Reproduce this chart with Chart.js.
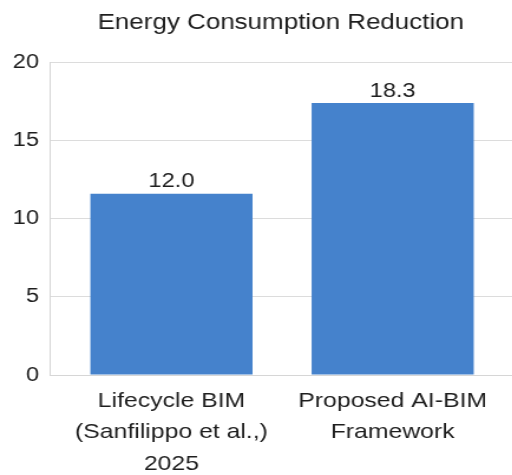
<!DOCTYPE html>
<html>
<head>
<meta charset="utf-8">
<script src="https://cdn.jsdelivr.net/npm/chart.js@4/dist/chart.umd.min.js"></script>
<style>
html,body{margin:0;padding:0;background:#fff;overflow:hidden;width:512px;height:475px;}
#wrap{transform:scaleX(1.18);transform-origin:0 0;width:434px;height:475px;}
</style>
</head>
<body>
<div id="wrap"><canvas id="c" width="434" height="475"></canvas></div>
<script>
const titleText = 'Energy Consumption Reduction';
const categories = [['Lifecycle BIM','(Sanfilippo et al.,)','2025'], ['Proposed AI-BIM','Framework']];
const barValues = [11.6, 17.4];
const valueLabels = ['12.0', '18.3'];
const yTicks = [0, 5, 10, 15, 20];

const FONT = '"Liberation Sans", Arial, Helvetica, sans-serif';
const TEXT = '#1e1e1e';

const valueLabelPlugin = {
  id: 'valueLabels',
  afterDatasetsDraw(chart) {
    const ctx = chart.ctx;
    const meta = chart.getDatasetMeta(0);
    ctx.save();
    ctx.font = '20px ' + FONT;
    ctx.fillStyle = TEXT;
    ctx.textAlign = 'center';
    ctx.textBaseline = 'bottom';
    meta.data.forEach((el, i) => {
      ctx.fillText(valueLabels[i], el.x, el.y - 2);
    });
    ctx.restore();
  }
};

new Chart(document.getElementById('c'), {
  type: 'bar',
  data: {
    datasets: [{
      data: barValues.map((v, i) => ({x: i, y: v})),
      backgroundColor: '#4582cc',
      borderWidth: 0,
      barPercentage: 0.733,
      categoryPercentage: 1.0
    }]
  },
  options: {
    responsive: false,
    animation: false,
    devicePixelRatio: 1,
    layout: {padding: {left: 0, right: 0, top: 0, bottom: 0}},
    plugins: {
      legend: {display: false},
      tooltip: {enabled: false},
      title: {
        display: true,
        fullSize: false,
        text: titleText,
        color: TEXT,
        font: {family: FONT, size: 22, weight: 'normal'},
        padding: {top: 10, bottom: 26}
      }
    },
    scales: {
      x: {
        type: 'linear',
        offset: false,
        min: -0.551,
        max: 1.54,
        grid: {display: false, drawTicks: false, offset: false},
        border: {display: true, color: '#d6d6d6', width: 1},
        afterBuildTicks(scale) {
          scale.ticks = categories.map((c, i) => ({value: i}));
        },
        afterFit(scale) { scale.height = 100; },
        ticks: {
          autoSkip: false,
          maxRotation: 0,
          color: TEXT,
          padding: 10,
          font: {family: FONT, size: 21, lineHeight: 1.5},
          callback: (v) => categories[v]
        }
      },
      y: {
        min: 0,
        max: 20,
        afterBuildTicks(scale) {
          scale.ticks = yTicks.map(v => ({value: v}));
        },
        afterFit(scale) { scale.width = 42; },
        grid: {color: '#dcdcdc', drawTicks: false, lineWidth: 1},
        border: {display: true, color: '#d6d6d6', width: 1},
        ticks: {
          color: TEXT,
          padding: 9,
          font: {family: FONT, size: 20}
        }
      }
    }
  },
  plugins: [valueLabelPlugin]
});
</script>
</body>
</html>
